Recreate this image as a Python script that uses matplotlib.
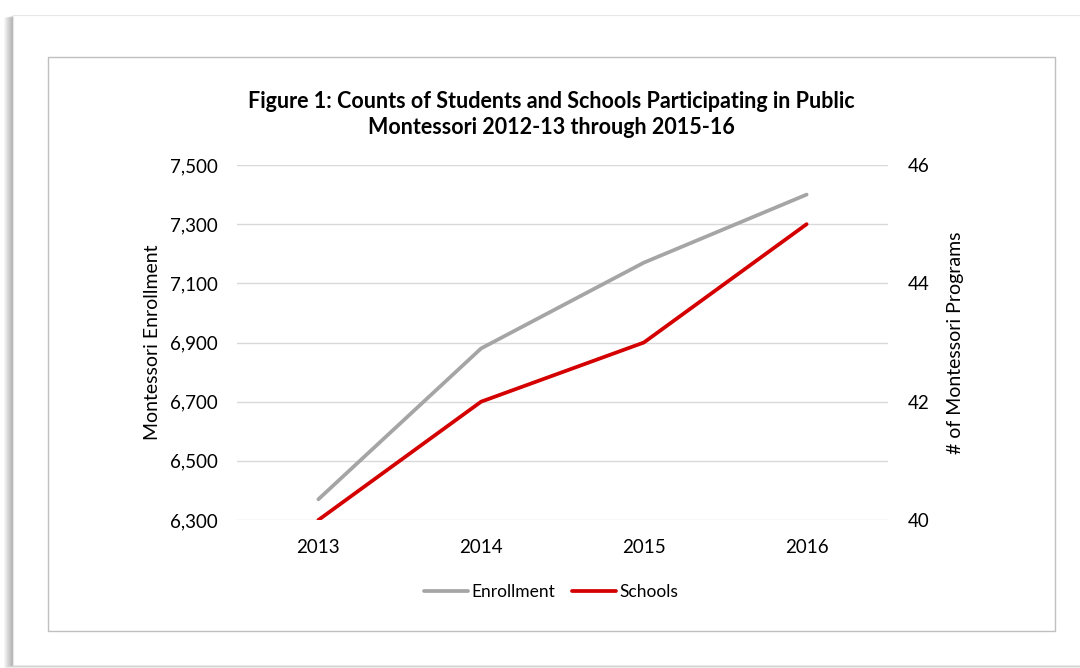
import matplotlib.pyplot as plt
from matplotlib.patches import Rectangle
from matplotlib.ticker import FuncFormatter

plt.rcParams['font.family'] = ['Lato', 'DejaVu Sans']

# data
years = ['2013', '2014', '2015', '2016']
enrollment = [6370, 6880, 7170, 7400]
schools = [40, 42, 43, 45]

W, H = 1080, 668
fig = plt.figure(figsize=(W / 100, H / 100), dpi=100)
fig.patch.set_facecolor('white')

def px(x0, y0, x1, y1):
    return (x0 / W, 1 - y1 / H), (x1 - x0) / W, (y1 - y0) / H

# card with soft shadow on left and bottom
for i in range(9):
    d = 9 - i
    xy, w, h = px(13 - d, 15 + d * 0.3, 1082, 665 + d * 0.35)
    fig.patches.append(Rectangle(xy, w, h, transform=fig.transFigure,
                                 facecolor='#000000', alpha=0.035, edgecolor='none', zorder=0))
xy, w, h = px(13, 15, 1082, 665)
fig.patches.append(Rectangle(xy, w, h, transform=fig.transFigure,
                             facecolor='white', edgecolor='#E8E8E8', lw=0.8, zorder=1))
# chart border
xy, w, h = px(48, 57, 1055, 631)
fig.patches.append(Rectangle(xy, w, h, transform=fig.transFigure,
                             facecolor='white', edgecolor='#BFBFBF', lw=1.0, zorder=2))

ax = fig.add_axes([237 / W, 1 - 520 / H, (888 - 237) / W, (520 - 165) / H])
ax.set_zorder(3)
ax.patch.set_visible(False)
ax2 = ax.twinx()

x = range(len(years))
l1, = ax.plot(x, enrollment, color='#A5A5A5', lw=2.7, label='Enrollment', solid_capstyle='round')
l2, = ax2.plot(x, schools, color='#D40000', lw=2.7, label='Schools', solid_capstyle='round')

ax.set_xlim(-0.5, 3.5)
ax.set_ylim(6300, 7500)
ax.set_yticks(range(6300, 7501, 200))
ax.yaxis.set_major_formatter(FuncFormatter(lambda v, p: f'{int(v):,}'))
ax2.set_ylim(40, 46)
ax2.set_yticks([40, 42, 44, 46])
ax.set_xticks(list(x))
ax.set_xticklabels(years)

ax.grid(axis='y', color='#D9D9D9', lw=1.0)
ax.set_axisbelow(True)
for a in (ax, ax2):
    for s in a.spines.values():
        s.set_visible(False)
    a.tick_params(length=0, labelsize=13.5, colors='#000000')
ax.tick_params(axis='y', pad=14)
ax2.tick_params(axis='y', pad=14)
ax.tick_params(axis='x', pad=14)

ax.set_ylabel('Montessori Enrollment', fontsize=14, labelpad=6)
ax2.set_ylabel('# of Montessori Programs', fontsize=14, labelpad=13)

fig.text(551 / W, 1 - 101 / H, 'Figure 1: Counts of Students and Schools Participating in Public',
         ha='center', va='center', fontsize=15.5, fontweight='bold')
fig.text(551 / W, 1 - 128 / H, 'Montessori 2012-13 through 2015-16',
         ha='center', va='center', fontsize=15.5, fontweight='bold')

fig.legend([l1, l2], ['Enrollment', 'Schools'], loc='center', bbox_to_anchor=(551 / W, 1 - 592 / H),
           ncol=2, frameon=False, fontsize=12.5, handlelength=2.5, handletextpad=0.2, columnspacing=1.0)

fig.savefig('out.png', dpi=100)
